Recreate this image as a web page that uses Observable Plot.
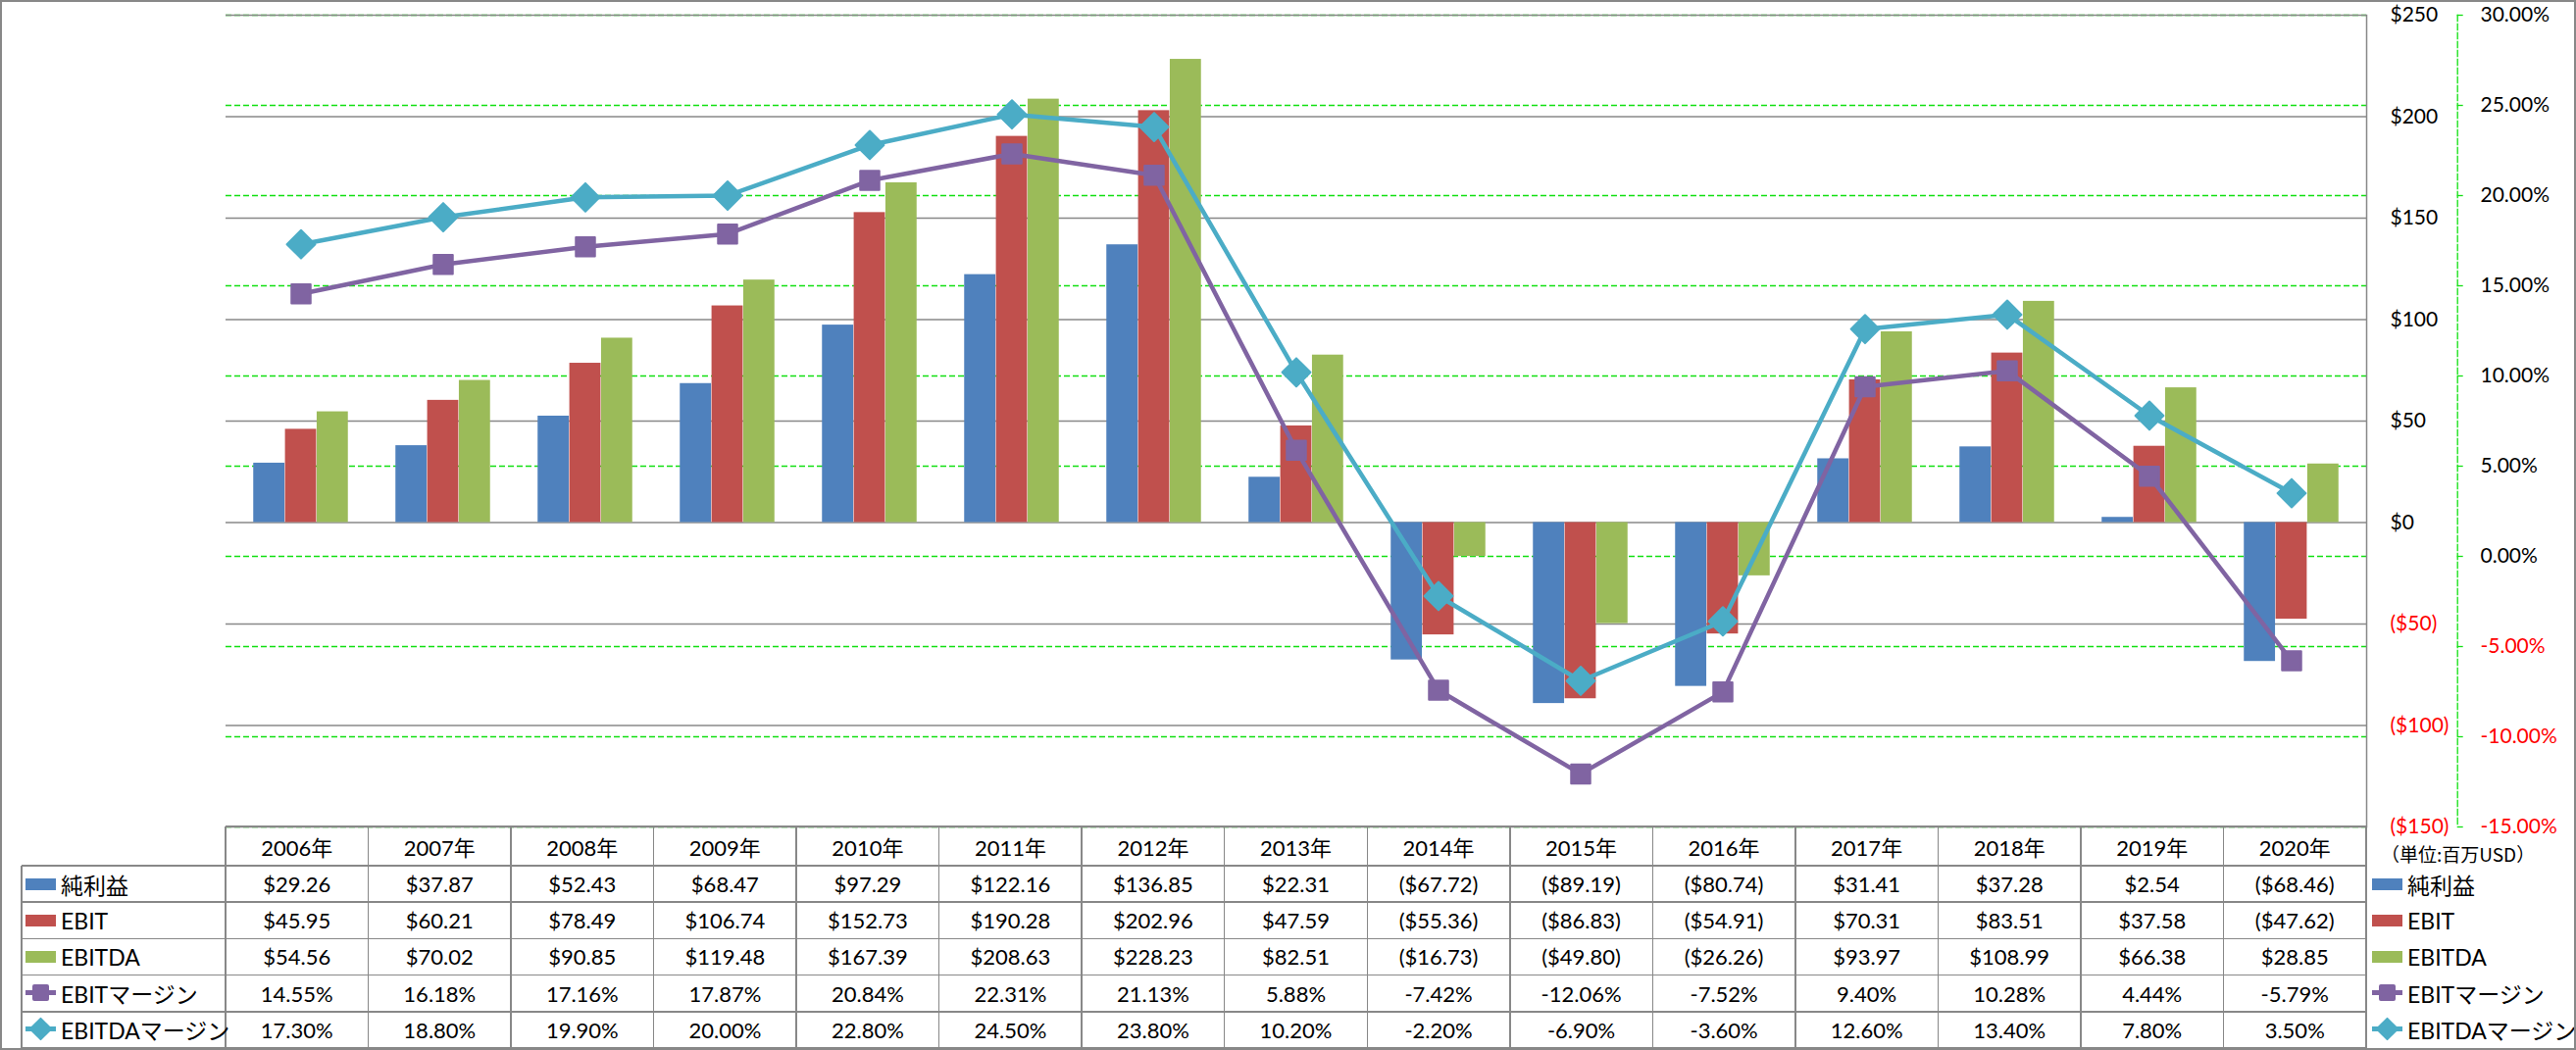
<!DOCTYPE html>
<html>
<head>
<meta charset="utf-8">
<script src="https://cdn.jsdelivr.net/npm/d3@7"></script>
<script src="https://cdn.jsdelivr.net/npm/@observablehq/plot@0.6"></script>
<style>
html,body{margin:0;padding:0;background:#fff;}
#wrap{position:relative;width:2627px;height:1071px;overflow:hidden;background:#fff;font-family:Lato,"Noto Sans CJK JP",sans-serif;color:#000;}
#chart{position:absolute;left:0;top:0;}
#chart svg{display:block;}
.hl{position:absolute;height:1.5px;background:#888;}
.vl{position:absolute;width:1.5px;background:#888;}
.cell{position:absolute;display:flex;align-items:center;justify-content:center;font-size:22px;white-space:nowrap;}
.lab{position:absolute;display:flex;align-items:center;font-size:23px;white-space:nowrap;}
.sw{display:inline-block;width:31px;height:12px;margin-right:5px;}
#border{position:absolute;left:0;top:0;width:2627px;height:1071px;box-sizing:border-box;border:2px solid #888;pointer-events:none;}
</style>
</head>
<body>
<div id="wrap">
  <div id="chart"></div>
  <div id="table"></div>
  <div id="border"></div>
</div>
<script>
// ---- data ----
const years = ["2006年","2007年","2008年","2009年","2010年","2011年","2012年","2013年","2014年","2015年","2016年","2017年","2018年","2019年","2020年"];
const netIncome = [29.26, 37.87, 52.43, 68.47, 97.29, 122.16, 136.85, 22.31, -67.72, -89.19, -80.74, 31.41, 37.28, 2.54, -68.46];
const ebit = [45.95, 60.21, 78.49, 106.74, 152.73, 190.28, 202.96, 47.59, -55.36, -86.83, -54.91, 70.31, 83.51, 37.58, -47.62];
const ebitda = [54.56, 70.02, 90.85, 119.48, 167.39, 208.63, 228.23, 82.51, -16.73, -49.80, -26.26, 93.97, 108.99, 66.38, 28.85];
const ebitMargin = [14.55, 16.18, 17.16, 17.87, 20.84, 22.31, 21.13, 5.88, -7.42, -12.06, -7.52, 9.40, 10.28, 4.44, -5.79];
const ebitdaMargin = [17.30, 18.80, 19.90, 20.00, 22.80, 24.50, 23.80, 10.20, -2.20, -6.90, -3.60, 12.60, 13.40, 7.80, 3.50];
const dollarTicks = [250, 200, 150, 100, 50, 0, -50, -100, -150];
const pctTicks = [30, 25, 20, 15, 10, 5, 0, -5, -10, -15];
const seriesNames = ["純利益", "EBIT", "EBITDA", "EBITマージン", "EBITDAマージン"];
const unitNote = "（単位:百万USD）";

// ---- layout / style ----
const W = 2627, H = 844;
const plotLeft = 230, plotRight = 2413, plotTop = 15, plotBottom = 843;
const plotW = plotRight - plotLeft;
const band = plotW / years.length;
const barW = band / 4.5;
const groupOff = (band - 3 * barW) / 2;
const colors = ["#4F81BD", "#C0504D", "#9BBB59", "#8064A2", "#4BACC6"];
const grid = "#888888";
const green = "#11e011";
const yDom = [-150, 250], pDom = [-15, 30];
const pct = p => yDom[0] + (p - pDom[0]) * (yDom[1] - yDom[0]) / (pDom[1] - pDom[0]);

const fmtDollar = v => v < 0 ? `($${(-v).toFixed(0)})` : `$${v.toFixed(0)}`;
const fmtPctAxis = v => `${v.toFixed(2)}%`;
const fmtMoney = v => v < 0 ? `($${(-v).toFixed(2)})` : `$${v.toFixed(2)}`;
const fmtPct = v => `${v.toFixed(2)}%`;

const barSeries = [netIncome, ebit, ebitda];
const rows = vals => years.map((y, i) => ({year: y, v: vals[i]}));

const barMarks = barSeries.map((vals, k) =>
  Plot.barY(rows(vals), {
    x: "year", y: "v", fill: colors[k],
    insetLeft: groupOff + k * barW,
    insetRight: band - groupOff - (k + 1) * barW
  })
);

const font = "Lato, 'Noto Sans CJK JP', sans-serif";

const chart = Plot.plot({
  width: W, height: H,
  marginLeft: plotLeft, marginRight: W - plotRight,
  marginTop: plotTop, marginBottom: H - plotBottom,
  style: {fontFamily: font, background: "transparent", overflow: "visible"},
  x: {type: "band", domain: years, padding: 0, axis: null},
  y: {domain: yDom, axis: null},
  marks: [
    // green dashed percent gridlines
    Plot.ruleY(pctTicks, {y: d => pct(d), stroke: green, strokeWidth: 1.3, strokeDasharray: "6,3"}),
    // gray dollar gridlines
    Plot.ruleY(dollarTicks, {stroke: grid, strokeWidth: 1.5}),
    ...barMarks,
    // EBIT margin
    Plot.line(rows(ebitMargin), {x: "year", y: d => pct(d.v), stroke: colors[3], strokeWidth: 4.5}),
    Plot.dot(rows(ebitMargin), {x: "year", y: d => pct(d.v), symbol: "square", r: 11, fill: colors[3], stroke: colors[3], strokeWidth: 2, strokeLinejoin: "round"}),
    // EBITDA margin
    Plot.line(rows(ebitdaMargin), {x: "year", y: d => pct(d.v), stroke: colors[4], strokeWidth: 4.5}),
    Plot.dot(rows(ebitdaMargin), {x: "year", y: d => pct(d.v), symbol: "diamond2", r: 13, fill: colors[4], stroke: colors[4], strokeWidth: 2, strokeLinejoin: "round"}),
    // plot right border
    Plot.frame({anchor: "right", stroke: grid, strokeWidth: 1.5}),
    // dollar axis labels
    Plot.text(dollarTicks, {filter: d => d >= 0, y: d => d, text: fmtDollar, frameAnchor: "right", textAnchor: "start", dx: 24, fontSize: 21, fill: "#000"}),
    Plot.text(dollarTicks, {filter: d => d < 0, y: d => d, text: fmtDollar, frameAnchor: "right", textAnchor: "start", dx: 24, fontSize: 21, fill: "#ff0000"}),
    // percent axis line & ticks
    Plot.frame({anchor: "right", dx: 92.7, stroke: green, strokeWidth: 1.3, strokeDasharray: "6,3"}),
    Plot.ruleY(pctTicks, {y: d => pct(d), insetLeft: plotW - 6, dx: 98.7, stroke: green, strokeWidth: 1.3}),
    // percent axis labels
    Plot.text(pctTicks, {filter: d => d >= 0, y: d => pct(d), text: fmtPctAxis, frameAnchor: "right", textAnchor: "start", dx: 116, fontSize: 21, fill: "#000"}),
    Plot.text(pctTicks, {filter: d => d < 0, y: d => pct(d), text: fmtPctAxis, frameAnchor: "right", textAnchor: "start", dx: 116, fontSize: 21, fill: "#ff0000"})
  ]
});
document.getElementById("chart").appendChild(chart);

// ---- data table ----
const tbl = document.getElementById("table");
const add = (cls, st, html) => {
  const d = document.createElement("div");
  d.className = cls;
  Object.assign(d.style, st);
  if (html != null) d.innerHTML = html;
  tbl.appendChild(d);
  return d;
};
const tableLeft = 22, headTop = plotBottom, headBot = 883, rowH = (1069 - 883) / 5;
const rowTops = d3.range(6).map(i => headBot + i * rowH);

// horizontal lines
add("hl", {left: plotLeft + "px", top: (headTop - 0.75) + "px", width: plotW + "px"});
rowTops.forEach(y => add("hl", {left: tableLeft + "px", top: (y - 0.75) + "px", width: (plotRight - tableLeft) + "px"}));
// vertical lines
add("vl", {left: (tableLeft - 0.75) + "px", top: headBot + "px", height: (1069 - headBot) + "px"});
for (let k = 0; k <= years.length; k++) {
  add("vl", {left: (plotLeft + k * band - 0.75) + "px", top: headTop + "px", height: (1069 - headTop) + "px"});
}
// header
years.forEach((y, i) => add("cell", {left: (plotLeft + i * band) + "px", top: headTop + "px", width: band + "px", height: (headBot - headTop) + "px"}, y));

const icon = (k) => {
  if (k < 3) return `<span class="sw" style="background:${colors[k]}"></span>`;
  const shape = k === 3
    ? `<rect x="7" y="-1" width="17" height="17" rx="2" fill="${colors[3]}"/>`
    : `<rect x="7" y="-1" width="17" height="17" rx="1" fill="${colors[4]}" transform="rotate(45 15.5 7.5)"/>`;
  return `<svg width="31" height="24" viewBox="0 -4 31 24" style="margin-right:5px;overflow:visible"><line x1="0" x2="31" y1="7.5" y2="7.5" stroke="${colors[k]}" stroke-width="5"/>${shape}</svg>`;
};

const tableSeries = [
  {vals: netIncome, fmt: fmtMoney},
  {vals: ebit, fmt: fmtMoney},
  {vals: ebitda, fmt: fmtMoney},
  {vals: ebitMargin, fmt: fmtPct},
  {vals: ebitdaMargin, fmt: fmtPct}
];
tableSeries.forEach((s, r) => {
  const top = rowTops[r];
  add("lab", {left: (tableLeft + 4) + "px", top: top + "px", height: rowH + "px"}, icon(r) + seriesNames[r]);
  s.vals.forEach((v, i) => add("cell", {left: (plotLeft + i * band) + "px", top: top + "px", width: band + "px", height: rowH + "px"}, s.fmt(v)));
  // right legend
  add("lab", {left: "2419px", top: top + "px", height: rowH + "px"}, icon(r) + seriesNames[r]);
});
add("lab", {left: "2428px", top: "855px", height: "30px", fontSize: "19px", fontFamily: "'Noto Sans CJK JP', sans-serif"}, unitNote);
</script>
</body>
</html>
